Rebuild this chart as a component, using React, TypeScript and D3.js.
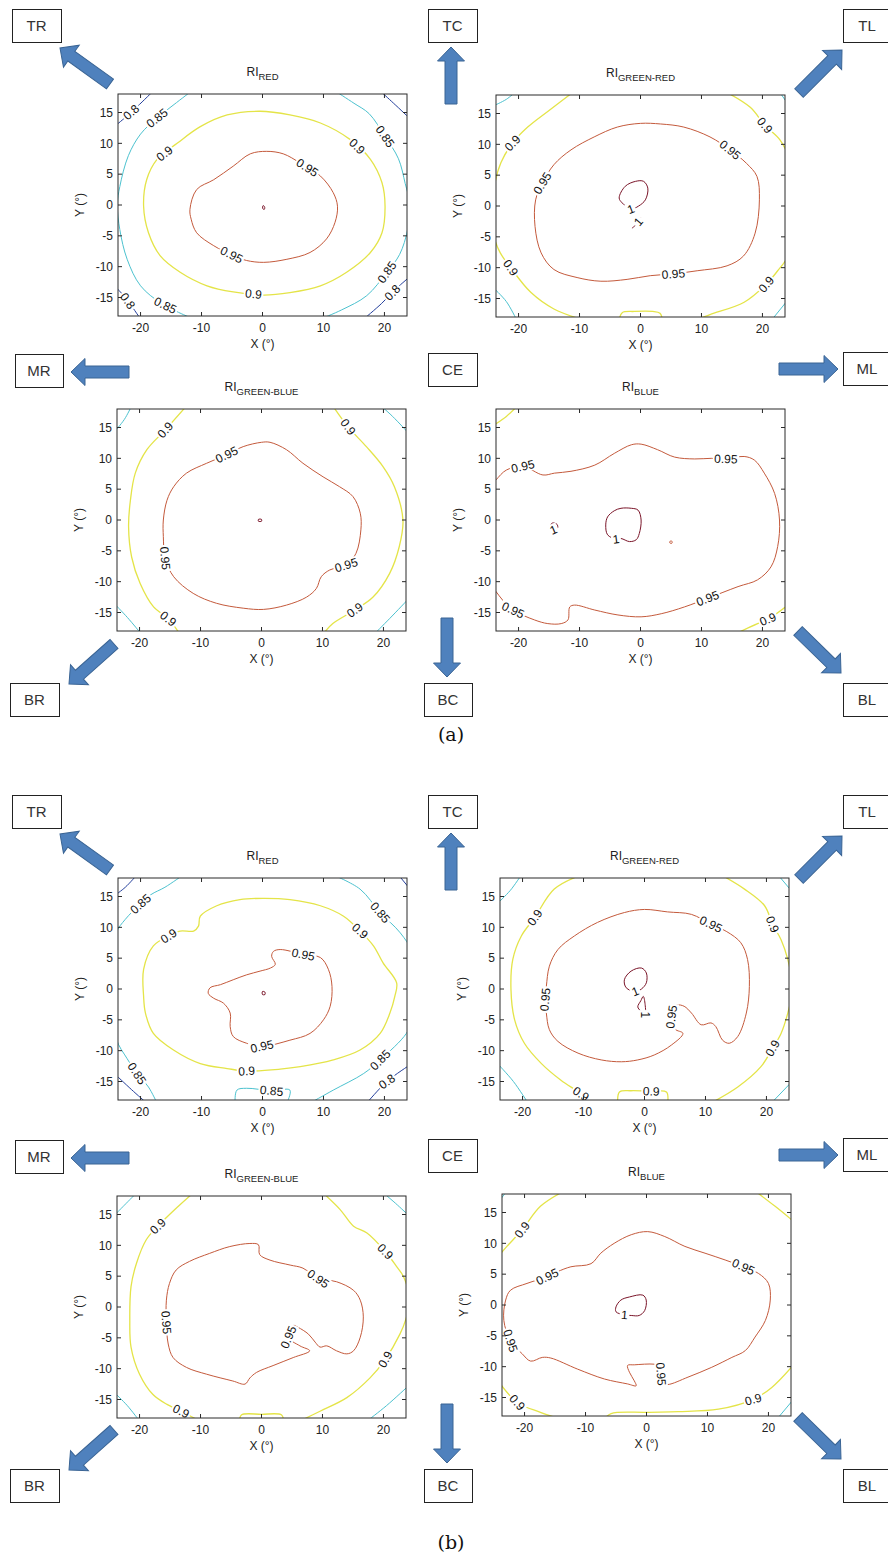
import * as d3 from "d3";

type Pt = [number, number];
type Contour = { level: number; pts: Pt[]; closed?: boolean };
type Label = [number, number, number]; // level, x, y (degrees)

const xTicks = [-20, -10, 0, 10, 20];
const yTicks = [-15, -10, -5, 0, 5, 10, 15];
const xDomain = [-23.7, 23.7];
const yDomain = [-18, 18];
const levels = [0.8, 0.85, 0.9, 0.95, 1];
const levelColors = ["#243f9c", "#4cc2cf", "#e4e448", "#c45a3c", "#7a1428"];

// ---- (a) RI RED ----
const aRed95: Pt[] = [[-11.9,-0.7],[-10.8,2.5],[-8,4.1],[-4.8,6.3],[-2,8.3],[0.7,8.7],[3.4,8.3],[6.2,6.8],[9.5,4.7],[11.6,2],[12.3,-0.2],[11.9,-2.8],[10.5,-5.5],[7.8,-7.7],[4,-8.8],[0.2,-9.3],[-2.6,-9],[-4.8,-8.2],[-8,-6.6],[-10.8,-4.5],[-11.7,-2.3]];
const aRed100: Pt[] = [[0.1,-0.1],[0.35,-0.3],[0.3,-0.7],[0.05,-0.6]];
const aRed90: Pt[] = [[-19.5,-0.2],[-19,4.1],[-17.3,7.4],[-14,10],[-10.2,12.7],[-5.8,14.6],[-0.4,15.2],[4.5,14.6],[9.5,13.3],[14.4,10.6],[17.7,7.4],[19.6,3.6],[20.1,-0.2],[19.6,-4.5],[17.7,-7.7],[13.8,-10.9],[9.5,-13.1],[4.5,-14.2],[0.2,-14.6],[-4.8,-14.1],[-9.1,-13.1],[-13.5,-10.9],[-16.8,-8.2],[-18.7,-4.5]];
const aRed85L: Pt[] = [[-11.6,18.5],[-14.5,16.3],[-17.3,14.1],[-20,11.5],[-22,8],[-23.4,3],[-23.8,0],[-23.4,-4],[-22.2,-8.8],[-20,-13.1],[-16.5,-16],[-11.3,-18.5]];
const aRed85R: Pt[] = [[11.9,18.5],[15,16.5],[17.5,14.8],[20.1,11.1],[22.3,7.5],[23.4,3.5],[24.2,0],[23.8,-4],[22.5,-8],[20.4,-10.9],[17.1,-14.7],[13,-17],[9.5,-18.5]];
const aRed80TL: Pt[] = [[-17.9,18.5],[-20.5,16],[-22.5,14.2],[-24.2,12.8]];
const aRed80TR: Pt[] = [[19.3,18.5],[21.5,16.5],[24.2,14]];
const aRed80BL: Pt[] = [[-24.2,-13.2],[-22.5,-15],[-20,-18.5]];
const aRed80BR: Pt[] = [[24.2,-11.6],[22,-13.5],[19.5,-16],[16.6,-18.5]];
const aRedLabels: Label[] = [[0.8,-21.4,14.9],[0.85,-17.3,14.1],[0.85,20.1,11.1],[0.9,-15.7,7.9],[0.9,15.5,9.5],[0.95,7.5,6.3],[0.95,-5.3,-8.5],[0.9,-1.5,-14.7],[0.85,20.4,-10.9],[0.8,21.5,-14.4],[0.8,-22,-15.5],[0.85,-15.7,-15.8]];

// ---- (a) RI GREEN-RED ----
const aGR95: Pt[] = [[-14.2,6.7],[-16.1,3.7],[-17.2,1],[-17.3,-3.3],[-16.3,-7.6],[-14.2,-10.3],[-10.4,-11.6],[-6.5,-12.2],[-2.2,-11.9],[1.6,-11.3],[5.4,-11],[9.3,-10.5],[14.2,-9.7],[16.9,-8.1],[18.8,-4.4],[19.5,1],[19.1,4.8],[17.4,6.9],[14.7,9.1],[11.4,11.2],[7.1,12.8],[3.3,13.3],[0,13.4],[-3.8,12.8],[-7.6,11.2],[-11.4,9.1]];
const aGR100: Pt[] = [[-0.8,4],[0.5,4],[1.2,2.9],[0.8,1],[-0.3,0],[-1.6,-0.5],[-3,0.5],[-3.5,1.3],[-2.5,3.2]];
const aGR100b: Pt[] = [[0,-1.9],[-0.3,-2.5],[-0.8,-3.1],[-1.4,-3.6]];
const aGR90L: Pt[] = [[-11,18.5],[-15,15.5],[-18.5,12.8],[-21,10.2],[-22.9,7],[-24,3],[-24.2,-1],[-24,-5],[-23,-7.6],[-21.3,-10],[-18,-14],[-14.2,-16.7],[-9.3,-18.5]];
const aGR90R: Pt[] = [[14,18.5],[18,16],[20.4,13.1],[22.9,10.7],[24.2,8],[24.8,0],[24.2,-8],[22.5,-10.5],[20.6,-12.7],[17,-15.6],[11.4,-17.6],[9,-18.5]];
const aGR90B: Pt[] = [[-3.5,-18.5],[-3,-17.3],[-1,-17.1],[2,-17.1],[3.2,-17.4],[3.6,-18.5]];
const aGR85TL: Pt[] = [[-24.2,16.2],[-22,17.3],[-20.5,18.5]];
const aGR85BL: Pt[] = [[-24.2,-13.2],[-22,-15.5],[-20.3,-18.5]];
const aGR85TR: Pt[] = [[22.8,18.5],[24.2,16.5]];
const aGR85BR: Pt[] = [[21.5,-18.5],[24.2,-15.2]];
const aGRLabels: Label[] = [[0.9,-21,10.2],[0.95,-16.1,3.7],[0.95,14.7,9.1],[0.9,20.4,13.1],[1,-1.6,-0.5],[1,-0.4,-2.5],[0.95,5.4,-11.1],[0.9,-21.3,-10],[0.9,20.6,-12.7]];

// ---- (a) RI GREEN-BLUE ----
const aGB95: Pt[] = [[0,12.6],[-3,11.9],[-5.7,10.6],[-9,9.2],[-12.3,7.6],[-14.4,5.4],[-15.5,3.2],[-16.1,0],[-16.1,-2.7],[-15.8,-6.2],[-14.4,-9.2],[-11.2,-11.9],[-7.4,-13.5],[-3,-14.3],[0.3,-14.5],[4.1,-13.8],[7.4,-12.5],[9,-11.1],[9.8,-9.2],[11.2,-8.1],[13.9,-7.3],[15.5,-5.4],[16.3,-1.6],[16.2,1.1],[15,3.8],[12.8,5.4],[10.1,7],[6.8,9.2],[4.1,11.4],[1.4,12.6]];
const aGB100: Pt[] = [[-0.5,0.1],[0,0.1],[0,-0.2],[-0.5,-0.2]];
const aGB90L: Pt[] = [[-12.3,18.5],[-15.8,14.6],[-18.8,11.4],[-20.7,7.6],[-21.5,3.2],[-21.8,-1.1],[-21.3,-6],[-19.9,-10.3],[-17.7,-14.1],[-15.3,-16],[-13.4,-18.5]];
const aGB90R: Pt[] = [[11.7,18.5],[14.2,15.1],[17.2,11.9],[19.9,8.7],[21.8,5.4],[23.2,0],[22.6,-4.3],[21,-8.7],[18.3,-12.5],[15.3,-14.6],[11.7,-16.8],[10.1,-18.5]];
const aGB85TL: Pt[] = [[-24.2,14.2],[-22.5,16.3],[-21.3,18.5]];
const aGB85TR: Pt[] = [[19.6,18.5],[21.5,16.8],[24.2,14]];
const aGB85BL: Pt[] = [[-24.2,-13.5],[-22,-15.8],[-19.7,-18.5]];
const aGB85BR: Pt[] = [[18.5,-18.5],[21,-16],[24.2,-12.7]];
const aGBLabels: Label[] = [[0.9,-15.8,14.6],[0.9,14.2,15.1],[0.95,-5.7,10.6],[0.95,-15.8,-6.2],[0.95,13.9,-7.3],[0.9,-15.3,-16],[0.9,15.3,-14.6]];

// ---- (a) RI BLUE ----
const aBlue95: Pt[] = [[-23.7,6.5],[-22,8.1],[-19.3,8.7],[-16,7.3],[-14.1,7.6],[-11.4,7.9],[-7.5,8.9],[-4.3,10.8],[-1.5,12.2],[0.1,12.3],[2.8,11.4],[5.6,10.2],[8.9,9.9],[11.6,10],[14,9.9],[17,10.3],[18.7,9.7],[20.3,7.6],[22,4.3],[22.8,0],[22.5,-4.3],[21.4,-7.6],[19.2,-9.7],[16,-10.8],[11,-12.7],[7.2,-14.1],[3.4,-15.2],[0.1,-15.7],[-3.7,-15.4],[-7.5,-14.6],[-10.8,-13.8],[-11.6,-14.1],[-11.9,-16.2],[-13,-16.8],[-15.2,-16.8],[-17.4,-16.2],[-20.9,-14.6],[-22.6,-13],[-23.7,-11.6],[-25,-10],[-25.5,0],[-25,5]];
const aBlue100: Pt[] = [[-1.5,1.9],[-0.4,1.6],[0.1,0],[-0.2,-2.2],[-0.7,-3.2],[-1.8,-3.5],[-3.2,-3],[-4,-3.1],[-5.4,-2.4],[-5.7,-0.8],[-5.4,0.5],[-4.3,1.5],[-3.2,1.9]];
const aBlue100b: Pt[] = [[-14.5,-0.5],[-13.7,-0.7],[-13.6,-1.3],[-14.3,-1.6],[-14.7,-1.1]];
const aBlue95b: Pt[] = [[4.9,-3.4],[5.2,-3.5],[5.1,-3.8],[4.8,-3.7]];
const aBlue90TL: Pt[] = [[-24.2,15.3],[-22,16.8],[-20.2,18.5]];
const aBlue90BR: Pt[] = [[15.5,-18.5],[19.2,-16.8],[20.9,-16.1],[24.2,-13.8]];
const aBlueLabels: Label[] = [[0.95,-19.3,8.7],[0.95,14,9.9],[1,-4,-3.1],[1,-14.6,-1.9],[0.95,11,-12.7],[0.95,-20.9,-14.6],[0.9,20.9,-16.1]];

// ---- (b) RI RED ----
const bRed95: Pt[] = [[-8.9,-0.7],[-8.6,0.2],[-6.9,0.7],[-4.8,1.5],[-2.6,2.3],[-0.4,2.9],[1.3,3.4],[2.1,4],[1.5,5.3],[1.8,6.1],[2.9,6.4],[6.7,5.6],[9.5,5.1],[10.8,3.2],[11.4,0.4],[11.1,-2.8],[10,-5],[7.8,-7.2],[4.5,-8.3],[-0.1,-9.3],[-2.6,-8.8],[-4.8,-7.7],[-5.3,-6.1],[-5.3,-3.9],[-6.4,-2.3],[-8,-1.5]];
const bRed100: Pt[] = [[0,-0.4],[0.4,-0.5],[0.4,-0.9],[0,-0.9]];
const bRed90: Pt[] = [[-19.5,-1.2],[-19.5,3.2],[-17.9,7],[-15.4,8.6],[-13.5,9.4],[-11.3,9.4],[-10.5,10.2],[-10.2,11.8],[-7.5,13.5],[-3.7,14.5],[0.2,14.7],[4.5,14.5],[9.5,13.5],[13.3,11.8],[16,9.4],[18.2,7],[19.8,4.2],[22,1],[21.7,-1.2],[20.9,-3.9],[19.3,-7.2],[16,-9.9],[11.6,-11.5],[6.2,-12.6],[2.9,-13],[-2.6,-13.3],[-5.8,-12.9],[-10.2,-12.1],[-14.6,-9.9],[-17.9,-7.2],[-19.2,-3.9]];
const bRed85L: Pt[] = [[-13,18.5],[-16,16.5],[-18.3,15.3],[-20,13.8],[-22.5,11.3],[-24,9],[-24.5,0],[-24,-8],[-22.2,-11.3],[-20.6,-13.7],[-18.7,-15.9],[-17.3,-18.5]];
const bRed85R: Pt[] = [[11.6,18.5],[16,16.2],[19.3,12.4],[22.6,9.1],[24.5,6],[25,0],[24.5,-5],[23.6,-7.2],[19.3,-11.5],[16.6,-13.7],[11.6,-16.4],[7.8,-18.5]];
const bRed85B: Pt[] = [[-4.5,-18.5],[-4.2,-16.4],[-2.6,-16.1],[1.5,-16.5],[4.5,-16.4],[4,-18.5]];
const bRed80TL: Pt[] = [[-24.2,15.2],[-22.5,16.5],[-20.6,18.5]];
const bRed80TR: Pt[] = [[22.3,18.5],[24.2,16.2]];
const bRed80BL: Pt[] = [[-24.2,-13.8],[-21.5,-16.3],[-19,-18.5]];
const bRed80BR: Pt[] = [[24.2,-12.3],[20.4,-15],[17.1,-18.5]];
const bRedLabels: Label[] = [[0.85,-20,13.8],[0.85,19.3,12.4],[0.9,-15.4,8.6],[0.9,16,9.4],[0.95,6.7,5.6],[0.95,-0.1,-9.3],[0.9,-2.6,-13.3],[0.85,-20.6,-13.7],[0.85,19.3,-11.5],[0.85,1.5,-16.5],[0.8,20.4,-15]];

// ---- (b) RI GREEN-RED ----
const bGR95: Pt[] = [[-16.1,0.4],[-16.3,-1.7],[-16.1,-3.9],[-15.6,-6.6],[-14.2,-8.5],[-10.9,-10.4],[-7.1,-11.5],[-3.8,-11.8],[-1.1,-11.5],[1.6,-10.7],[4.4,-9.1],[6.3,-7.2],[5,-6.5],[4.4,-4.6],[4.6,-3.2],[5.3,-2.6],[6.5,-2.8],[7.7,-3.9],[9.3,-5.8],[10.9,-5.5],[11.7,-6.1],[12.8,-8.3],[13.9,-8.8],[15.3,-7.7],[16.7,-3.9],[17.2,0.4],[16.9,4.8],[15.8,7.5],[13.5,9.3],[10.9,10.5],[7.7,12.1],[3.8,12.5],[0,12.9],[-3.3,12.4],[-7.7,10.8],[-11.5,8.6],[-14.2,6.4],[-15.6,3.7]];
const bGR100: Pt[] = [[-0.5,3.4],[0.3,2.6],[0.3,1],[-0.5,0],[-1.5,-0.4],[-3,0.2],[-3.3,1.5],[-2.2,2.9]];
const bGR100b: Pt[] = [[-0.2,-1.2],[0.1,-2.5],[0.1,-4.3],[-0.6,-3.6],[-1.1,-2.9],[-0.6,-1.9]];
const bGR90L: Pt[] = [[-10.4,18.5],[-14.8,16.2],[-18,11.6],[-20.2,8.6],[-21.6,4.8],[-21.9,-0.1],[-21.3,-5],[-19.7,-8.8],[-16.9,-12.1],[-13.7,-14.8],[-10.4,-17],[-8.7,-18.5]];
const bGR90B: Pt[] = [[-4.4,-18.5],[-4.1,-16.7],[-2.2,-16.5],[1.1,-16.6],[3.6,-16.7],[3.8,-18.5]];
const bGR90R: Pt[] = [[12.6,18.5],[16.4,16.2],[19.7,13.5],[21,10.5],[22.4,8],[23.5,4.8],[24.3,0],[23.5,-3.9],[22.4,-7.2],[21,-9.6],[19.1,-12.6],[15.3,-15.9],[10.9,-18.5]];
const bGR85TL: Pt[] = [[-24.2,13.8],[-22,16],[-20.2,18.5]];
const bGR85TR: Pt[] = [[21.9,18.5],[24.2,15.8]];
const bGR85BL: Pt[] = [[-24.2,-12],[-21.5,-15],[-19.1,-18.5]];
const bGR85BR: Pt[] = [[20.8,-18.5],[24.2,-15]];
const bGRLabels: Label[] = [[0.9,-18,11.6],[0.95,10.9,10.5],[0.9,21,10.5],[0.95,-16.3,-1.7],[1,-1.5,-0.4],[1,0.1,-4.2],[0.95,4.4,-4.5],[0.9,21,-9.6],[0.9,-10.4,-17],[0.9,1.1,-16.6]];

// ---- (b) RI GREEN-BLUE ----
const bGB95: Pt[] = [[-1.9,10.3],[-0.5,10.1],[-0.3,8.5],[1.4,7.6],[4.7,6.8],[6.8,6.3],[9.3,4.6],[12.3,4.1],[15.1,2.7],[16.2,1.1],[16.7,-1.6],[16.2,-4.9],[15.1,-7.1],[14,-7.6],[12.3,-7.1],[10.7,-6.3],[9.6,-6.5],[8.8,-5.7],[7.7,-4.4],[6,-3.3],[5.2,-3],[4.4,-4.9],[6.3,-6.3],[7.9,-7.1],[5.2,-8.2],[1.9,-9.5],[-0.8,-10.6],[-1.9,-11.5],[-2.7,-12.5],[-4.7,-12],[-9,-10.9],[-12.3,-9.8],[-14.5,-8.2],[-15.3,-6],[-15.6,-2.5],[-15.6,1.1],[-15.1,3.8],[-14,6],[-11.8,7.4],[-8.5,8.7],[-5.2,9.8]];
const bGB90L: Pt[] = [[-11.2,18.5],[-14,16],[-17,13.1],[-18.9,10.9],[-20.5,7.1],[-21.4,3.3],[-21.6,-2.2],[-21.4,-6.5],[-20,-10.9],[-17.8,-14.2],[-15.5,-15.8],[-13.2,-16.9],[-10.1,-18.5]];
const bGB90B: Pt[] = [[-3.6,-18.5],[-3.3,-17.5],[0,-17.4],[3.3,-17.5],[3.6,-18.5]];
const bGB90R: Pt[] = [[10.1,18.5],[12.9,15.8],[15.1,13.1],[17.3,12],[20.3,9],[22.2,6.5],[23.3,4.9],[24.3,1],[23.6,-2.2],[22.7,-4.4],[20.3,-8.5],[17.8,-11.5],[14,-14.7],[9.6,-16.9],[6.3,-18.5]];
const bGB85TL: Pt[] = [[-24.2,14.8],[-22.5,16.5],[-20.5,18.5]];
const bGB85TR: Pt[] = [[20,18.5],[22,16.8],[24.2,14.8]];
const bGB85BL: Pt[] = [[-24.2,-13.8],[-22,-16],[-20,-18.5]];
const bGB85BR: Pt[] = [[17.3,-18.5],[20.5,-16],[24.2,-12.7]];
const bGBLabels: Label[] = [[0.9,-17,13.1],[0.9,20.3,9],[0.95,9.3,4.6],[0.95,-15.6,-2.5],[0.95,4.4,-4.9],[0.9,20.3,-8.5],[0.9,-13.2,-16.9]];

// ---- (b) RI BLUE ----
const bBlue95: Pt[] = [[0.2,11.9],[-2.5,11.4],[-5.3,10],[-7.5,8.4],[-9.1,6.7],[-12.4,6.2],[-14.6,5.4],[-16.3,4.6],[-19.6,3.5],[-22.3,2.4],[-23.1,0.8],[-23.4,-2.5],[-22.3,-5.8],[-20.4,-7.9],[-19,-9.1],[-17.1,-8.5],[-15.7,-8.6],[-11.3,-10.4],[-6.9,-12],[-3.1,-12.8],[-1.7,-13.1],[-2,-12.3],[-2.8,-10.9],[-3.1,-9.8],[-2,-9.7],[1.3,-9.6],[2.3,-9.9],[2.5,-12.7],[3.5,-12.9],[6.8,-11.7],[10.7,-10.1],[14,-8.5],[16.2,-7.4],[17.8,-5.2],[19.5,-2.5],[20.3,0.8],[20,3.5],[18.4,5.1],[15.9,6.2],[12.9,7.3],[9.6,8.4],[6.3,9.5],[3,11.1]];
const bBlue100: Pt[] = [[-2.8,1.3],[-0.6,1.6],[-0.05,0.8],[-0.3,-0.9],[-1.2,-1.7],[-2.5,-1.7],[-3.6,-1.6],[-5,-1.1],[-5,-0.3],[-4.2,0.8]];
const bBlue90TL: Pt[] = [[-13.5,18.5],[-17.4,16],[-20.4,12.2],[-22.9,9.5],[-24.2,8]];
const bBlue90BL: Pt[] = [[-24.2,-12.5],[-21.2,-15.8],[-17.4,-17.4],[-14.1,-18.5]];
const bBlue90B: Pt[] = [[-6.9,-18.5],[-5.8,-17.6],[0,-17.4],[5.2,-17.3],[11.8,-16.9],[17.5,-15.3],[20.5,-13.4],[24.2,-9.6]];
const bBlue90TR: Pt[] = [[17.8,18.5],[21.1,16],[24.2,13.5]];
const bBlue85TL: Pt[] = [[-24.2,16.8],[-22.9,18.5]];
const bBlue85BR: Pt[] = [[21.4,-18.5],[24.2,-15.2]];
const bBlueLabels: Label[] = [[0.9,-20.4,12.2],[0.95,-16.3,4.6],[0.95,15.9,6.2],[1,-3.6,-1.6],[0.95,-22.3,-5.8],[0.95,2.4,-11.2],[0.9,-21.2,-15.8],[0.9,17.5,-15.3]];

const boxNames = ["TR", "TC", "TL", "MR", "CE", "ML", "BR", "BC", "BL"];

const FONT = "'Liberation Sans', Arial, sans-serif";
const W = 289;
const H = 222;

const color = d3.scaleOrdinal<number, string>().domain(levels).range(levelColors);

function c(level: number, pts: Pt[], closed = false): Contour {
  return { level, pts, closed };
}

const plots = [
  { id: "ar", left: 118, top: 94, sub: "RED", labels: aRedLabels,
    contours: [c(0.95, aRed95, true), c(1, aRed100, true), c(0.9, aRed90, true), c(0.85, aRed85L), c(0.85, aRed85R), c(0.8, aRed80TL), c(0.8, aRed80TR), c(0.8, aRed80BL), c(0.8, aRed80BR)] },
  { id: "agr", left: 496, top: 95, sub: "GREEN-RED", labels: aGRLabels,
    contours: [c(0.95, aGR95, true), c(1, aGR100, true), c(1, aGR100b), c(0.9, aGR90L), c(0.9, aGR90R), c(0.9, aGR90B), c(0.85, aGR85TL), c(0.85, aGR85BL), c(0.85, aGR85TR), c(0.85, aGR85BR)] },
  { id: "agb", left: 117, top: 409, sub: "GREEN-BLUE", labels: aGBLabels,
    contours: [c(0.95, aGB95, true), c(1, aGB100, true), c(0.9, aGB90L), c(0.9, aGB90R), c(0.85, aGB85TL), c(0.85, aGB85TR), c(0.85, aGB85BL), c(0.85, aGB85BR)] },
  { id: "ab", left: 496, top: 409, sub: "BLUE", labels: aBlueLabels,
    contours: [c(0.95, aBlue95, true), c(1, aBlue100, true), c(1, aBlue100b, true), c(0.95, aBlue95b, true), c(0.9, aBlue90TL), c(0.9, aBlue90BR)] },
  { id: "br", left: 118, top: 878, sub: "RED", labels: bRedLabels,
    contours: [c(0.95, bRed95, true), c(1, bRed100, true), c(0.9, bRed90, true), c(0.85, bRed85L), c(0.85, bRed85R), c(0.85, bRed85B), c(0.8, bRed80TL), c(0.8, bRed80TR), c(0.8, bRed80BL), c(0.8, bRed80BR)] },
  { id: "bgr", left: 500, top: 878, sub: "GREEN-RED", labels: bGRLabels,
    contours: [c(0.95, bGR95, true), c(1, bGR100, true), c(1, bGR100b, true), c(0.9, bGR90L), c(0.9, bGR90B), c(0.9, bGR90R), c(0.85, bGR85TL), c(0.85, bGR85TR), c(0.85, bGR85BL), c(0.85, bGR85BR)] },
  { id: "bgb", left: 117, top: 1196, sub: "GREEN-BLUE", labels: bGBLabels,
    contours: [c(0.95, bGB95, true), c(0.9, bGB90L), c(0.9, bGB90B), c(0.9, bGB90R), c(0.85, bGB85TL), c(0.85, bGB85TR), c(0.85, bGB85BL), c(0.85, bGB85BR)] },
  { id: "bb", left: 502, top: 1194, sub: "BLUE", labels: bBlueLabels,
    contours: [c(0.95, bBlue95, true), c(1, bBlue100, true), c(0.9, bBlue90TL), c(0.9, bBlue90BL), c(0.9, bBlue90B), c(0.9, bBlue90TR), c(0.85, bBlue85TL), c(0.85, bBlue85BR)] },
];

// label boxes [x, y] top-left, per panel; panel (b) shifted down
const boxPos: [number, number, number][] = [
  [12, 9, 49], [428, 9, 49], [843, 9, 48],
  [15, 354, 48], [428, 353, 49], [843, 352, 48],
  [10, 683, 49], [424, 683, 48], [843, 683, 48],
];
// arrows: tail -> tip
const arrowPos: [number, number, number, number][] = [
  [110, 84, 60, 48], [451, 104, 451, 47], [799, 93, 842, 50],
  [129, 372, 71, 372], [779, 369, 838, 369],
  [114, 644, 69, 684], [447, 618, 447, 677], [798, 631, 841, 673],
];
const panelShift = [0, 786];
const panelTags = ["(a)", "(b)"];

function labelWidth(t: string, fs: number) {
  let w = 0;
  for (const ch of t) w += ch === "." ? 0.278 : 0.556;
  return w * fs;
}

function Plot({ cfg }: { cfg: any }) {
  const x = d3.scaleLinear().domain(xDomain).range([0, W]);
  const y = d3.scaleLinear().domain(yDomain).range([H, 0]);
  const openLine = d3.line<Pt>().x(d => x(d[0])).y(d => y(d[1])).curve(d3.curveCatmullRom.alpha(0.5));
  const closedLine = d3.line<Pt>().x(d => x(d[0])).y(d => y(d[1])).curve(d3.curveCatmullRomClosed.alpha(0.5));
  const contours: Contour[] = cfg.contours;
  const clipId = `clip-${cfg.id}`;

  const placed = (cfg.labels as Label[]).map(([lv, lx, ly]) => {
    const px = x(lx), py = y(ly);
    let best = { d: Infinity, x: px, y: py, a: 0 };
    contours.filter(k => k.level === lv).forEach(k => {
      const pts = k.pts.map(p => [x(p[0]), y(p[1])]);
      const n = k.closed ? pts.length : pts.length - 1;
      for (let i = 0; i < n; i++) {
        const a = pts[i], b = pts[(i + 1) % pts.length];
        const dx = b[0] - a[0], dy = b[1] - a[1];
        const len2 = dx * dx + dy * dy || 1;
        const t = Math.max(0, Math.min(1, ((px - a[0]) * dx + (py - a[1]) * dy) / len2));
        const qx = a[0] + t * dx, qy = a[1] + t * dy;
        const d = Math.hypot(px - qx, py - qy);
        if (d < best.d) best = { d, x: qx, y: qy, a: Math.atan2(dy, dx) };
      }
    });
    let ang = (best.a * 180) / Math.PI;
    if (ang > 90) ang -= 180;
    if (ang <= -90) ang += 180;
    const text = lv === 1 ? "1" : String(lv);
    return { text, x: best.x, y: best.y, ang };
  });

  const fs = 12;
  return (
    <g transform={`translate(${cfg.left},${cfg.top})`}>
      <defs>
        <clipPath id={clipId}>
          <rect width={W} height={H} />
        </clipPath>
      </defs>
      <rect width={W} height={H} fill="#fff" />
      <g clipPath={`url(#${clipId})`}>
        {contours.map((k, i) => (
          <path key={i} d={(k.closed ? closedLine : openLine)(k.pts) || ""} fill="none"
            stroke={color(k.level)} strokeWidth={k.level === 0.9 ? 1.3 : 1} />
        ))}
        {placed.map((l, i) => {
          const w = labelWidth(l.text, fs) + 3;
          return (
            <g key={i} transform={`translate(${l.x},${l.y}) rotate(${l.ang})`}>
              <rect x={-w / 2} y={-6} width={w} height={12} fill="#fff" />
              <text textAnchor="middle" dy="0.35em" fontSize={fs} fontFamily={FONT} fill="#111">{l.text}</text>
            </g>
          );
        })}
      </g>
      <rect width={W} height={H} fill="none" stroke="#2a2a2a" strokeWidth={1} />
      {xTicks.map(t => (
        <g key={`x${t}`}>
          <line x1={x(t)} x2={x(t)} y1={H} y2={H - 4} stroke="#2a2a2a" />
          <line x1={x(t)} x2={x(t)} y1={0} y2={4} stroke="#2a2a2a" />
          <text x={x(t)} y={H + 16} textAnchor="middle" fontSize={12} fontFamily={FONT} fill="#222">{t}</text>
        </g>
      ))}
      {yTicks.map(t => (
        <g key={`y${t}`}>
          <line x1={0} x2={4} y1={y(t)} y2={y(t)} stroke="#2a2a2a" />
          <line x1={W - 4} x2={W} y1={y(t)} y2={y(t)} stroke="#2a2a2a" />
          <text x={-5} y={y(t)} dy="0.35em" textAnchor="end" fontSize={12} fontFamily={FONT} fill="#222">{t}</text>
        </g>
      ))}
      <text x={W / 2} y={-18} textAnchor="middle" fontSize={12} fontFamily={FONT} fill="#222">
        RI<tspan dy={4} fontSize={9.5}>{cfg.sub}</tspan>
      </text>
      <text x={W / 2} y={H + 32} textAnchor="middle" fontSize={12} fontFamily={FONT} fill="#222">X (°)</text>
      <text transform={`translate(-38,${H / 2}) rotate(-90)`} textAnchor="middle" dy="0.35em" fontSize={12} fontFamily={FONT} fill="#222">Y (°)</text>
    </g>
  );
}

function Arrow({ x1, y1, x2, y2 }: { x1: number; y1: number; x2: number; y2: number }) {
  const L = Math.hypot(x2 - x1, y2 - y1);
  const ang = (Math.atan2(y2 - y1, x2 - x1) * 180) / Math.PI;
  const hl = 14, sw = 6, hw = 13.5;
  const pts = [[0, -sw], [L - hl, -sw], [L - hl, -hw], [L, 0], [L - hl, hw], [L - hl, sw], [0, sw]];
  return (
    <polygon transform={`translate(${x1},${y1}) rotate(${ang})`} points={pts.map(p => p.join(",")).join(" ")}
      fill="#4f81bd" stroke="#3a6494" strokeWidth={1} />
  );
}

export default function App() {
  return (
    <svg width={888} height={1564} style={{ position: "absolute", left: 0, top: 0, background: "#fff" }}>
      <rect width={888} height={1564} fill="#fff" />
      {panelShift.map((dy, p) => (
        <g key={p}>
          {boxNames.map((name, i) => {
            const [bx, by, bw] = boxPos[i];
            return (
              <g key={name}>
                <rect x={bx + 0.5} y={by + dy + 0.5} width={bw} height={33} fill="#fff" stroke="#222" strokeWidth={1} />
                <text x={bx + bw / 2} y={by + dy + 17} dy="0.35em" textAnchor="middle" fontSize={15} fontFamily={FONT} fill="#333">{name}</text>
              </g>
            );
          })}
          {arrowPos.map((a, i) => (
            <Arrow key={i} x1={a[0]} y1={a[1] + dy} x2={a[2]} y2={a[3] + dy} />
          ))}
          <text x={451} y={741 + dy * 1.0 + (p === 1 ? 22 : 0)} textAnchor="middle" fontSize={19} fontFamily="'DejaVu Serif', serif" fill="#111">{panelTags[p]}</text>
        </g>
      ))}
      {plots.map(cfg => <Plot key={cfg.id} cfg={cfg} />)}
    </svg>
  );
}
